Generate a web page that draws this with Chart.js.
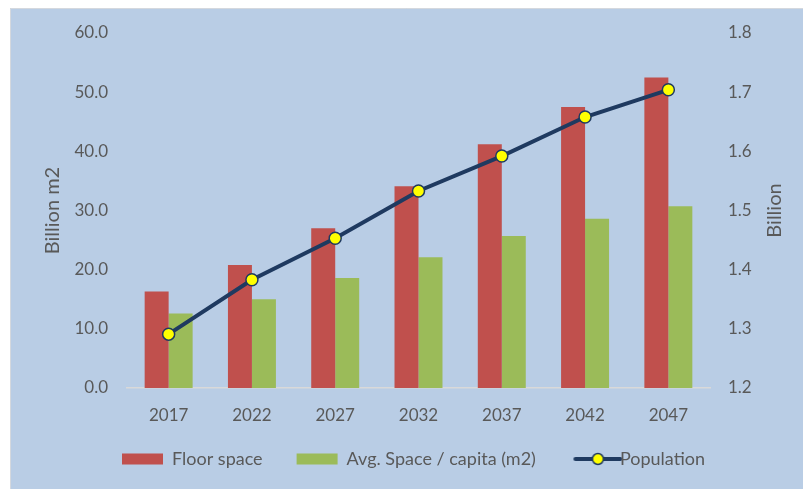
<!DOCTYPE html>
<html>
<head>
<meta charset="utf-8">
<script src="https://cdn.jsdelivr.net/npm/chart.js@4.4.1/dist/chart.umd.min.js"></script>
<style>
  html, body { margin: 0; padding: 0; background: #fff; overflow: hidden; }
  #wrap { width: 803px; height: 489px; }
</style>
</head>
<body>
<div id="wrap"><canvas id="chart" width="803" height="489"></canvas></div>
<script>
// Data
const years = ['2017', '2022', '2027', '2032', '2037', '2042', '2047'];
const floorSpace = [16.3, 20.8, 27.0, 34.1, 41.2, 47.5, 52.5];
const avgSpace = [12.6, 15.0, 18.6, 22.1, 25.7, 28.6, 30.7];
const population = [1.291, 1.383, 1.453, 1.533, 1.592, 1.658, 1.704];

const navy = '#1F3A60';
const grey = '#595959';
const font = { family: 'Lato', size: 17 };
const titleFont = { family: 'Lato', size: 20 };
const legendFont = { family: 'Lato', size: 18 };

// legend icon for the line series (drawn a bit right of centre, next to the text)
const lineIcon = document.createElement('canvas');
lineIcon.width = 64;
lineIcon.height = 16;
(function () {
    const c = lineIcon.getContext('2d');
    c.strokeStyle = navy;
    c.lineWidth = 4;
    c.lineCap = 'round';
    c.beginPath(); c.moveTo(17, 8); c.lineTo(62, 8); c.stroke();
    c.fillStyle = '#FFFF00';
    c.lineWidth = 1.5;
    c.beginPath(); c.arc(39.5, 8, 5.5, 0, Math.PI * 2); c.fill(); c.stroke();
})();

// blue panel behind the chart, right-hand title, legend nudge
const panel = {
    id: 'panel',
    afterLayout(chart) {
        const lg = chart.legend;
        lg.top -= 10; lg.bottom -= 10;
        lg.left += 12; lg.right += 12;
    },
    beforeDraw(chart) {
        const c = chart.ctx;
        c.save();
        c.fillStyle = '#B9CDE5';
        c.fillRect(10, 8, chart.width - 10, chart.height - 8);
        c.strokeStyle = '#D4D8DE';
        c.lineWidth = 1;
        c.beginPath();
        c.moveTo(10.5, chart.height); c.lineTo(10.5, 8.5); c.lineTo(chart.width, 8.5);
        c.stroke();
        c.restore();
    },
    afterDraw(chart) {
        const c = chart.ctx;
        c.save();
        c.translate(775, (chart.chartArea.top + chart.chartArea.bottom) / 2);
        c.rotate(-Math.PI / 2);
        c.fillStyle = grey;
        c.font = '20px Lato';
        c.textAlign = 'center';
        c.textBaseline = 'middle';
        c.fillText('Billion', 0, 0);
        c.restore();
    }
};

new Chart(document.getElementById('chart'), {
    type: 'bar',
    data: {
        labels: years,
        datasets: [{
            label: 'Floor space',
            data: floorSpace,
            backgroundColor: '#C0504D',
            yAxisID: 'y',
            order: 1,
            categoryPercentage: 0.576,
            barPercentage: 1
        }, {
            label: 'Avg. Space / capita (m2)',
            data: avgSpace,
            backgroundColor: '#9BBB59',
            yAxisID: 'y',
            order: 1,
            categoryPercentage: 0.576,
            barPercentage: 1
        }, {
            type: 'line',
            label: 'Population',
            data: population,
            yAxisID: 'y1',
            order: 0,
            borderColor: navy,
            borderWidth: 4,
            tension: 0,
            pointRadius: 6,
            pointBackgroundColor: '#FFFF00',
            pointBorderColor: navy,
            pointBorderWidth: 1.5
        }]
    },
    options: {
        responsive: false,
        animation: false,
        layout: { padding: { top: 33, bottom: 1, left: 0, right: 0 } },
        scales: {
            x: {
                grid: { display: false, drawTicks: false },
                border: { color: '#D9D9D9', width: 1.5 },
                ticks: { color: grey, font: font, padding: 17 },
                afterFit: (s) => { s.height = 38; }
            },
            y: {
                position: 'left',
                min: 0, max: 60,
                grid: { display: false, drawTicks: false },
                border: { display: false },
                ticks: { stepSize: 10, color: grey, font: font, padding: 19,
                    callback: (v) => v.toFixed(1) },
                title: { display: true, text: 'Billion m2', color: grey, font: titleFont,
                    padding: { top: 41, bottom: 0 } },
                afterFit: (s) => { s.width = 127; }
            },
            y1: {
                position: 'right',
                min: 1.2, max: 1.8,
                grid: { display: false, drawTicks: false },
                border: { display: false },
                ticks: { stepSize: 0.1, color: grey, font: font, padding: 18,
                    callback: (v) => v.toFixed(1) },
                afterFit: (s) => { s.width = 93; }
            }
        },
        plugins: {
            tooltip: { enabled: false },
            legend: {
                position: 'bottom',
                labels: {
                    color: grey,
                    font: legendFont,
                    usePointStyle: true,
                    pointStyleWidth: 41,
                    boxHeight: 11,
                    padding: 34,
                    sort: (a, b) => a.datasetIndex - b.datasetIndex,
                    generateLabels: (chart) => {
                        const items = Chart.defaults.plugins.legend.labels.generateLabels(chart);
                        items.forEach((it) => {
                            if (it.datasetIndex === 2) {
                                it.pointStyle = lineIcon;
                            } else {
                                it.pointStyle = 'rect';
                                it.lineWidth = 0;
                            }
                        });
                        return items;
                    }
                }
            }
        }
    },
    plugins: [panel]
});
</script>
</body>
</html>
